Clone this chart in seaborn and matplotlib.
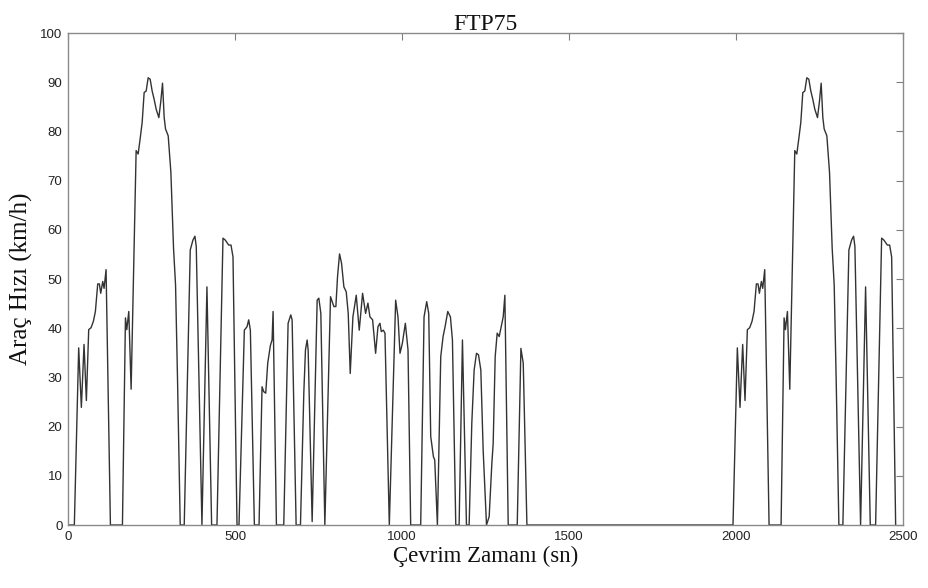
import matplotlib
matplotlib.use("Agg")
import matplotlib.pyplot as plt
import seaborn as sns
import pandas as pd

# ---- data ----
# Bag 1 (cold start), time in s, speed in km/h
bag1_time = [0, 19, 32, 40, 48, 55, 62, 69, 76, 82, 89, 94, 98, 104, 108, 114, 127, 163, 172, 176,
             182, 189, 204, 210, 216, 222, 228, 234, 240, 246, 252, 258, 264, 272, 278, 283, 288, 292, 300, 308,
             316, 322, 328, 336, 348, 366, 374, 380, 384, 401, 416, 430, 446, 464, 471, 481, 488, 494, 506]
bag1_speed = [0, 0, 36.0, 23.9, 36.7, 25.3, 39.7, 40.1, 41.4, 43.4, 49.0, 49.0, 47.1, 49.5, 48.1, 51.9, 0, 0, 42.1, 39.7,
              43.4, 27.6, 76.1, 75.4, 78.5, 81.8, 87.9, 88.2, 90.9, 90.6, 88.2, 86.5, 84.5, 82.8, 86.2, 89.8, 82.8, 80.5, 79.1, 71.7,
              56.2, 48.8, 29.3, 0, 0, 55.9, 57.9, 58.7, 56.6, 0, 48.4, 0, 0, 58.3, 57.9, 56.9, 56.9, 54.5, 0]

# Bag 2 (transient)
bag2_time = [512, 528, 536, 541, 546, 558, 572, 581, 586, 592, 598, 606, 611, 614, 624, 646, 659, 667, 671, 683,
             696, 706, 711, 716, 719, 731, 746, 751, 757, 769, 786, 796, 802, 807, 813, 819, 826, 833, 839, 845,
             853, 863, 872, 882, 891, 898, 904, 912, 921, 928, 934, 938, 944, 949, 962, 981, 988, 994, 1001, 1010,
             1018, 1026, 1056, 1066, 1074, 1080, 1086, 1094, 1098, 1106, 1116, 1123, 1129, 1137, 1145, 1151, 1161, 1171, 1181, 1193,
             1201, 1209, 1216, 1223, 1229, 1236, 1243, 1253, 1261, 1269, 1273, 1279, 1285, 1291, 1297, 1303, 1308, 1318, 1345, 1356,
             1363, 1374]
bag2_speed = [0, 39.6, 40.3, 41.7, 39.6, 0, 0, 28.1, 27.1, 26.8, 32.9, 36.5, 37.6, 43.4, 0, 0, 41.0, 42.7, 41.7, 0,
              0, 26.8, 35.6, 37.6, 35.6, 0.7, 45.7, 46.1, 43.0, 0, 46.4, 44.4, 44.4, 50.5, 55.1, 53.2, 48.4, 47.4, 43.0, 30.8,
              42.3, 46.7, 39.6, 47.1, 43.0, 45.1, 42.3, 41.7, 34.9, 40.3, 41.0, 39.3, 39.6, 39.0, 0, 45.7, 42.3, 34.9, 36.9, 41.0,
              35.6, 0, 0, 42.3, 45.4, 43.0, 18.0, 13.9, 13.2, 0, 34.2, 38.3, 40.3, 43.4, 42.3, 37.6, 0, 0, 37.6, 0,
              0, 20.7, 31.5, 34.9, 34.6, 31.5, 15.2, 0, 1.7, 12.5, 16.6, 34.2, 39.0, 38.3, 40.3, 42.3, 46.7, 0, 0, 35.9,
              32.9, 0]

# Bag 3 (hot start) repeats bag 1 after the soak
hot_start_time = 1972

title = "FTP75"
x_label = "Çevrim Zamanı (sn)"
y_label = "Araç Hızı (km/h)"
x_ticks = [0, 500, 1000, 1500, 2000, 2500]
y_ticks = [0, 10, 20, 30, 40, 50, 60, 70, 80, 90, 100]

time = bag1_time + bag2_time + [hot_start_time + t for t in bag1_time]
speed = bag1_speed + bag2_speed + bag1_speed
df = pd.DataFrame({"t": time, "v": speed})

sns.set_theme(style="white")
plt.rcParams["font.family"] = ["Liberation Sans", "DejaVu Sans"]

fig = plt.figure(figsize=(9.29, 5.88), dpi=100)
ax = fig.add_axes([68 / 929, 1 - 525 / 588, (903 - 68) / 929, (525 - 33) / 588])

sns.lineplot(data=df, x="t", y="v", ax=ax, color="#333333", linewidth=1.0, sort=False)

ax.set_xlim(0, 2500)
ax.set_ylim(0, 100)
ax.set_xticks(x_ticks)
ax.set_yticks(y_ticks)
ax.tick_params(direction="in", top=True, right=True, length=5, width=0.8,
               color="#7f7f7f", labelsize=9.5, pad=4, labelcolor="#222222")
for s in ax.spines.values():
    s.set_color("#8a8a8a")
    s.set_linewidth(1.0)

serif = ["Liberation Serif", "DejaVu Serif"]
ax.set_title(title, family=serif, fontsize=17, pad=2, color="#111111")
ax.set_xlabel(x_label, family=serif, fontsize=16.5, labelpad=2, color="#111111")
ax.set_ylabel(y_label, family=serif, fontsize=18, labelpad=5, color="#111111")

fig.savefig("out.png", dpi=100)
